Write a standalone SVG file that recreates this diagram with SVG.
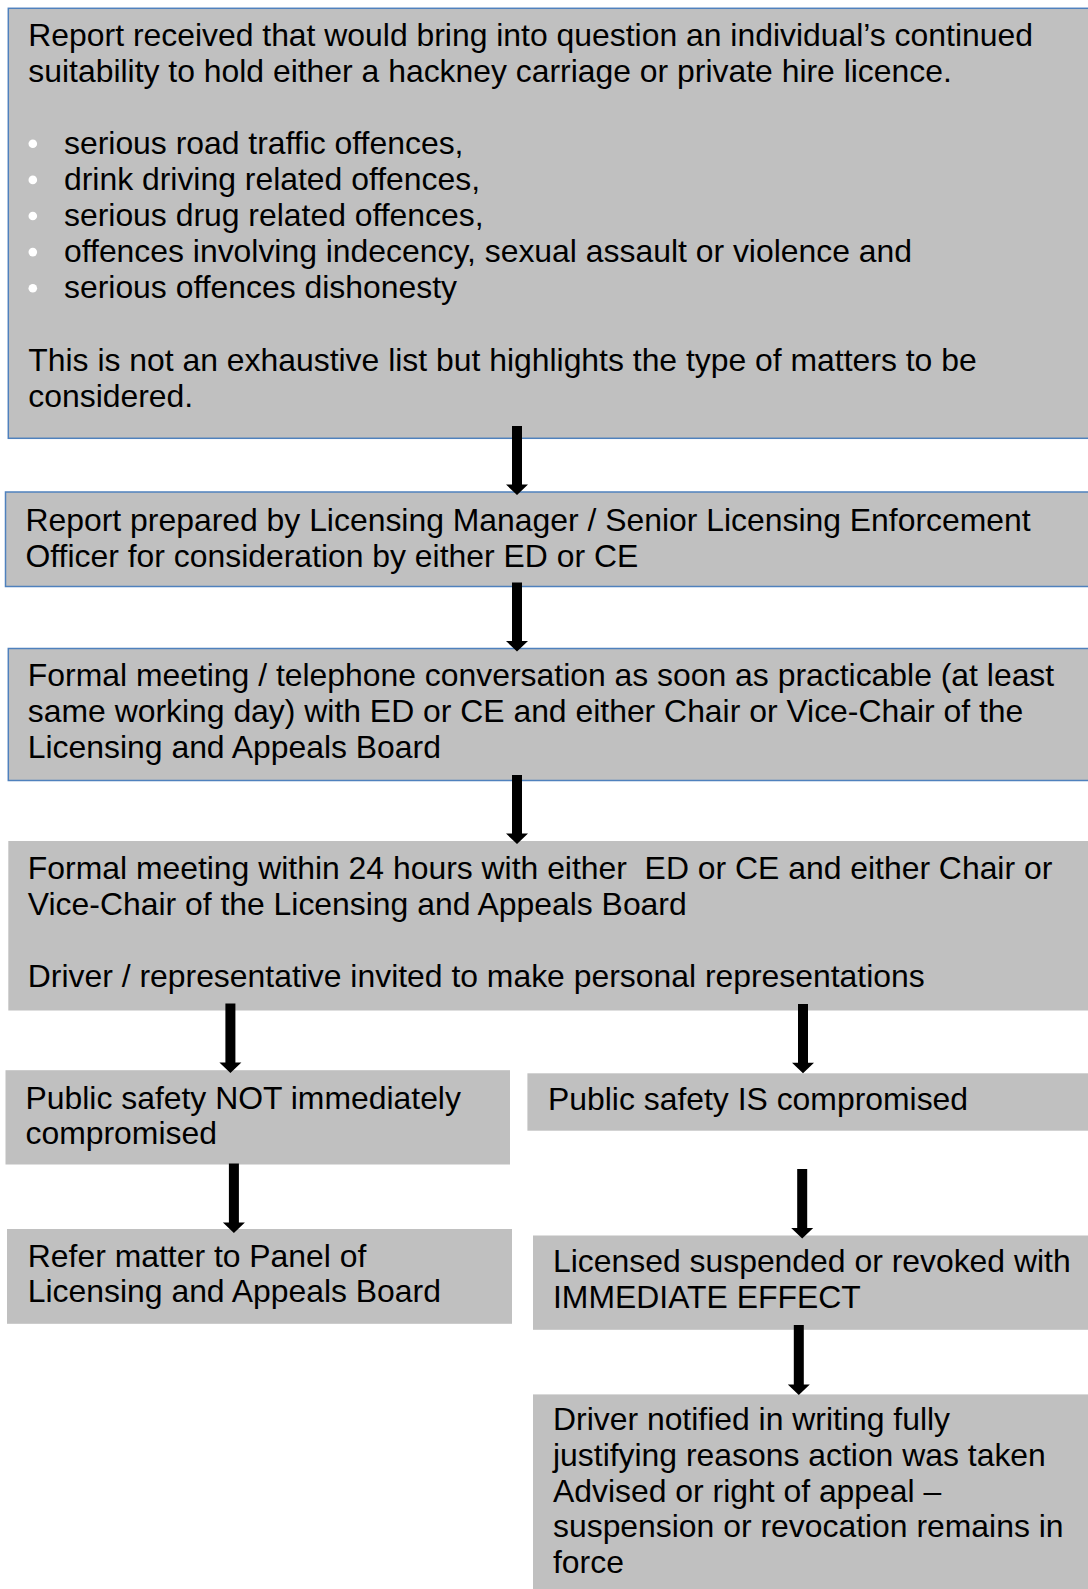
<svg xmlns="http://www.w3.org/2000/svg" width="1088" height="1589" viewBox="0 0 1088 1589">
<defs>
<style>
.box{fill:#c0c0c0;}
.bl{stroke:#4f81bd;stroke-width:1.5;}
.t{font-family:"Liberation Sans",Arial,sans-serif;font-size:31.9px;fill:#000;}
.pre{white-space:pre;}
.dot{fill:#ffffff;}
.arr{fill:#000;stroke:none;}
</style>
<path id="ar" d="M-5,0 H5 V-10.5 H11 L0,0 L-11,-10.5 H-5 Z"/>
</defs>
<rect width="1088" height="1589" fill="#ffffff"/>

<g id="n1">
<rect class="box bl" x="8.3" y="8.3" width="1100" height="430"/>
<text class="t" x="28.3" y="45.5">Report received that would bring into question an individual’s continued</text>
<text class="t" x="28.3" y="81.7">suitability to hold either a hackney carriage or private hire licence.</text>
<circle class="dot" cx="32.8" cy="143.8" r="4.3"/>
<circle class="dot" cx="32.8" cy="179.9" r="4.3"/>
<circle class="dot" cx="32.8" cy="216" r="4.3"/>
<circle class="dot" cx="32.8" cy="252.1" r="4.3"/>
<circle class="dot" cx="32.8" cy="288.2" r="4.3"/>
<text class="t" x="64" y="154">serious road traffic offences,</text>
<text class="t" x="64" y="190.1">drink driving related offences,</text>
<text class="t" x="64" y="226.2">serious drug related offences,</text>
<text class="t" x="64" y="262.3">offences involving indecency, sexual assault or violence and</text>
<text class="t" x="64" y="298.4">serious offences dishonesty</text>
<text class="t" x="28.3" y="370.5">This is not an exhaustive list but highlights the type of matters to be</text>
<text class="t" x="28.3" y="406.6">considered.</text>
</g>

<g id="n2">
<rect class="box bl" x="5.5" y="492" width="1100" height="94.5"/>
<text class="t" x="25.5" y="531">Report prepared by Licensing Manager / Senior Licensing Enforcement</text>
<text class="t" x="25.5" y="566.8">Officer for consideration by either ED or CE</text>
</g>

<g id="n3">
<rect class="box bl" x="8.3" y="648.5" width="1100" height="132"/>
<text class="t" x="27.8" y="686.2">Formal meeting / telephone conversation as soon as practicable (at least</text>
<text class="t" x="27.8" y="722.3">same working day) with ED or CE and either Chair or Vice-Chair of the</text>
<text class="t" x="27.8" y="758.4">Licensing and Appeals Board</text>
</g>

<g id="n4">
<rect class="box" x="8.3" y="841" width="1100" height="169.5"/>
<text class="t pre" x="27.8" y="878.5">Formal meeting within 24 hours with either  ED or CE and either Chair or</text>
<text class="t" x="27.8" y="914.6">Vice-Chair of the Licensing and Appeals Board</text>
<text class="t" x="27.8" y="986.8">Driver / representative invited to make personal representations</text>
</g>

<g id="n5a">
<rect class="box" x="5.5" y="1070.2" width="504.5" height="94.3"/>
<text class="t" x="25.5" y="1108.5">Public safety NOT immediately</text>
<text class="t" x="25.5" y="1144">compromised</text>
</g>

<g id="n5b">
<rect class="box" x="527.4" y="1073.3" width="600" height="57.4"/>
<text class="t" x="548" y="1109.5">Public safety IS compromised</text>
</g>

<g id="n6a">
<rect class="box" x="7" y="1229" width="505" height="94.8"/>
<text class="t" x="27.8" y="1266.5">Refer matter to Panel of</text>
<text class="t" x="27.8" y="1302.4">Licensing and Appeals Board</text>
</g>

<g id="n6b">
<rect class="box" x="533" y="1235.5" width="600" height="94.3"/>
<text class="t" x="553" y="1272.4">Licensed suspended or revoked with</text>
<text class="t" x="553" y="1308.3">IMMEDIATE EFFECT</text>
</g>

<g id="n7">
<rect class="box" x="533" y="1394.4" width="600" height="200"/>
<text class="t" x="553" y="1430">Driver notified in writing fully</text>
<text class="t" x="553" y="1465.8">justifying reasons action was taken</text>
<text class="t" x="553" y="1501.6">Advised or right of appeal –</text>
<text class="t" x="553" y="1537.4">suspension or revocation remains in</text>
<text class="t" x="553" y="1573">force</text>
</g>

<g id="connectors">
<path class="arr" d="M512,426 H522 V484.5 H528 L517,495 L506,484.5 H512 Z"/>
<path class="arr" d="M512,582.6 H522 V641 H528 L517,651.5 L506,641 H512 Z"/>
<path class="arr" d="M512,775 H522 V833.5 H528 L517,844 L506,833.5 H512 Z"/>
<path class="arr" d="M225.4,1003.6 H235.4 V1062.5 H241.4 L230.4,1073 L219.4,1062.5 H225.4 Z"/>
<path class="arr" d="M798,1004 H808 V1062.8 H814 L803,1073.3 L792,1062.8 H798 Z"/>
<path class="arr" d="M228.9,1163.4 H238.9 V1222.5 H244.9 L233.9,1233 L222.9,1222.5 H228.9 Z"/>
<path class="arr" d="M797.2,1169 H807.2 V1228 H813.2 L802.2,1238.5 L791.2,1228 H797.2 Z"/>
<path class="arr" d="M793.8,1325 H803.8 V1384.5 H809.8 L798.8,1395 L787.8,1384.5 H793.8 Z"/>
</g>
</svg>
